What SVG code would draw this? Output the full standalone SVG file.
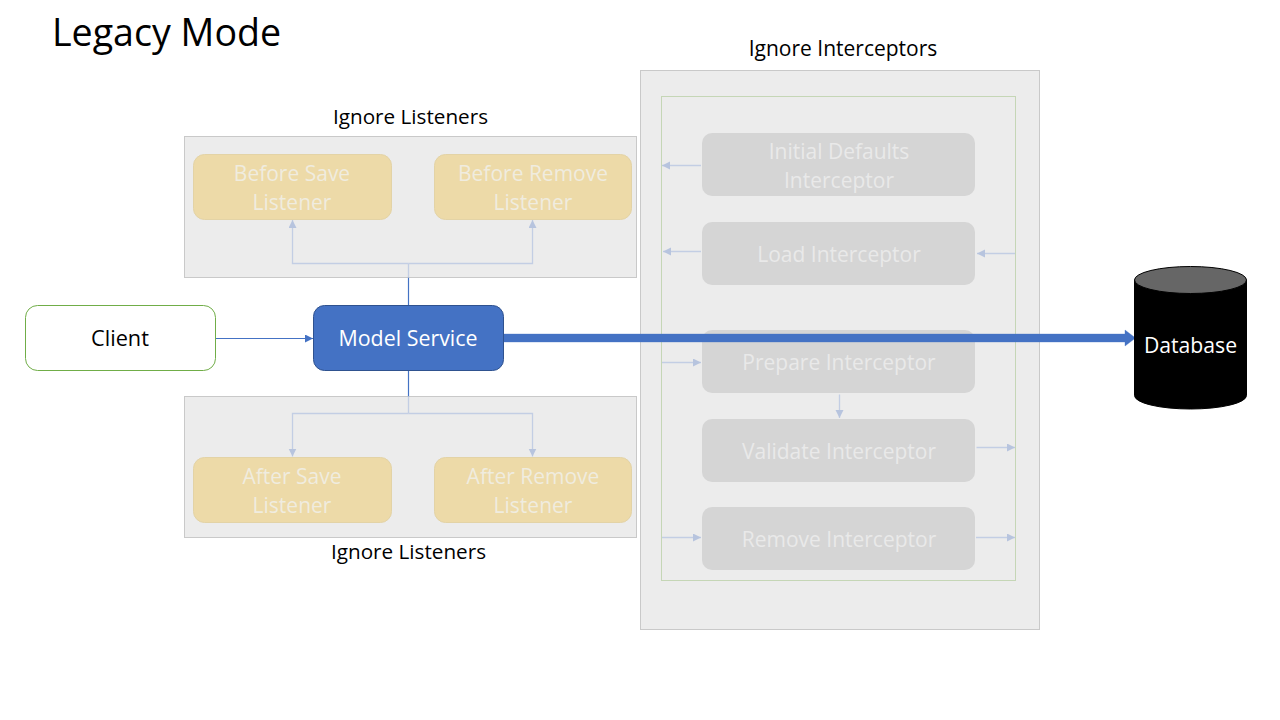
<svg xmlns="http://www.w3.org/2000/svg" width="1280" height="720" viewBox="0 0 1280 720">
<style>
text{font-family:"Open Sans","Noto Sans","Liberation Sans",sans-serif;text-anchor:middle}
.lab{font-size:20.7px;fill:#000}
.panel{fill:#ececec;stroke:#c9c9c9;stroke-width:1}
.lis{fill:#eddaa8;stroke:#e3d3a6;stroke-width:1}
.lt{font-size:21px;fill:#f0ecdf}
.int{fill:#d5d5d5}
.it{font-size:21px;fill:#e9e9e9}
.pale{fill:none;stroke:#c3cee4;stroke-width:1.3}
.blue{fill:none;stroke:#4472c4;stroke-width:1.2}
</style>
<defs>
<marker id="pa" markerUnits="userSpaceOnUse" markerWidth="9" markerHeight="9" refX="8" refY="4" orient="auto"><path d="M0 0L8 4L0 8Z" fill="#b7c4de"/></marker>
<marker id="ba" markerUnits="userSpaceOnUse" markerWidth="9" markerHeight="9" refX="8" refY="4" orient="auto"><path d="M0 0L8 4L0 8Z" fill="#4472c4"/></marker>
</defs>
<rect width="1280" height="720" fill="#fff"/>
<text x="52" y="45.500" style="text-anchor:start;font-size:37.6px" fill="#000">Legacy Mode</text>
<text class="lab" x="410.500" y="124">Ignore Listeners</text>
<text class="lab" x="408.500" y="559">Ignore Listeners</text>
<text class="lab" x="843" y="55.500" style="font-size:21px">Ignore Interceptors</text>

<g id="panels">
<rect id="panel-before" class="panel" x="184.500" y="136.500" width="452" height="141"/>
<rect id="panel-after" class="panel" x="184.500" y="396.500" width="452" height="141"/>
<rect id="panel-interceptors" class="panel" x="640.500" y="70.500" width="399" height="559"/>
<rect id="panel-inner" x="661.500" y="96.500" width="354" height="484" fill="none" stroke="#c5d6b6"/>
</g>

<g id="before-save"><rect class="lis" x="193.500" y="154.500" width="198" height="65" rx="11"/><text class="lt" x="292" y="180.500">Before Save</text><text class="lt" x="292" y="209.500">Listener</text></g>
<g id="before-remove"><rect class="lis" x="434.500" y="154.500" width="197" height="65" rx="11"/><text class="lt" x="533" y="180.500">Before Remove</text><text class="lt" x="533" y="209.500">Listener</text></g>
<g id="after-save"><rect class="lis" x="193.500" y="457.500" width="198" height="65" rx="11"/><text class="lt" x="292" y="483.500">After Save</text><text class="lt" x="292" y="512.500">Listener</text></g>
<g id="after-remove"><rect class="lis" x="434.500" y="457.500" width="197" height="65" rx="11"/><text class="lt" x="533" y="483.500">After Remove</text><text class="lt" x="533" y="512.500">Listener</text></g>

<g id="initial-defaults"><rect class="int" x="702" y="133" width="273" height="63" rx="10"/><text class="it" x="839" y="158.500">Initial Defaults</text><text class="it" x="839" y="187.500">Interceptor</text></g>
<g id="load"><rect class="int" x="702" y="222" width="273" height="63" rx="10"/><text class="it" x="839" y="261.500">Load Interceptor</text></g>
<g id="prepare"><rect class="int" x="702" y="330" width="273" height="63" rx="10"/><text class="it" x="839" y="369.500">Prepare Interceptor</text></g>
<g id="validate"><rect class="int" x="702" y="419" width="273" height="63" rx="10"/><text class="it" x="839" y="458.500">Validate Interceptor</text></g>
<g id="remove"><rect class="int" x="702" y="507" width="273" height="63" rx="10"/><text class="it" x="839" y="546.500">Remove Interceptor</text></g>

<g id="connectors">
<path class="blue" d="M215.500 338.500H313" marker-end="url(#ba)"/>
<path class="blue" d="M408.500 305V277.500"/>
<path class="blue" d="M408.500 371V396.500"/>
<path class="pale" d="M408.500 277.500V263.500"/>
<path class="pale" d="M408.500 263.500H292.500V220" marker-end="url(#pa)"/>
<path class="pale" d="M408.500 263.500H532.500V220" marker-end="url(#pa)"/>
<path class="pale" d="M408.500 396.500V413.500"/>
<path class="pale" d="M408.500 413.500H292.500V456.500" marker-end="url(#pa)"/>
<path class="pale" d="M408.500 413.500H532.500V456.500" marker-end="url(#pa)"/>
<path class="pale" d="M701 165.500H662" marker-end="url(#pa)"/>
<path class="pale" d="M701 251.500H663" marker-end="url(#pa)"/>
<path class="pale" d="M1015 253.500H977" marker-end="url(#pa)"/>
<path class="pale" d="M662 362.500H701" marker-end="url(#pa)"/>
<path class="pale" d="M839.500 394.500V418" marker-end="url(#pa)"/>
<path class="pale" d="M976.500 447.500H1015" marker-end="url(#pa)"/>
<path class="pale" d="M662 537.500H701" marker-end="url(#pa)"/>
<path class="pale" d="M976 537.500H1015" marker-end="url(#pa)"/>
<path d="M504 334H1125V330L1135.500 338L1125 346V342H504Z" fill="#4472c4" stroke="#4472c4" stroke-opacity=".35" stroke-width="1"/>
</g>

<g id="client"><rect x="25.500" y="305.500" width="190" height="65" rx="12" fill="#fff" stroke="#70ad47"/><text class="lab" x="120" y="346" style="font-size:21.700px">Client</text></g>
<g id="model-service"><rect x="313.500" y="305.500" width="190" height="65" rx="11" fill="#4472c4" stroke="#2f528f"/><text x="408" y="346" style="font-size:21.400px" fill="#fff">Model Service</text></g>
<g id="database">
<path d="M1134.500 280V395.500A56 13.500 0 0 0 1246.500 395.500V280Z" fill="#000" stroke="#000"/>
<ellipse cx="1190.500" cy="280" rx="56" ry="13.500" fill="#666" stroke="#000"/>
<text x="1190.500" y="353" style="font-size:21.200px" fill="#fff">Database</text>
</g>
</svg>
